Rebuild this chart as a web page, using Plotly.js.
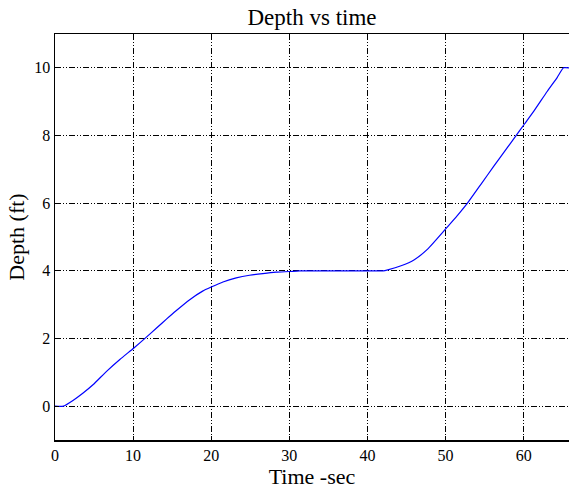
<!DOCTYPE html>
<html>
<head>
<meta charset="utf-8">
<script src="https://cdn.plot.ly/plotly-3.0.1.min.js"></script>
<style>html,body{margin:0;padding:0;overflow:hidden;background:#fff;}</style>
</head>
<body>
<div id="chart" style="width:569px;height:493px;"></div>
<script>
const timeSec = [0, 1.06, 2.3, 3.6, 4.9, 6.6, 8.3, 10.1, 11.7, 13.0, 14.3, 15.5, 17.2, 18.9, 20.0, 21.5, 23.2, 24.9, 26.6, 28.3, 30.0, 31.3, 35.0, 39.1, 42.0, 42.6, 44.3, 46.0, 47.7, 50.1, 51.5, 52.8, 54.5, 56.2, 57.9, 59.0, 60.1, 61.3, 63.0, 64.3, 65.1, 65.8];
const depthFt = [0, 0, 0.17, 0.39, 0.64, 1.03, 1.38, 1.72, 2.04, 2.31, 2.58, 2.82, 3.14, 3.40, 3.52, 3.67, 3.79, 3.87, 3.92, 3.96, 3.98, 4.0, 4.0, 4.0, 4.0, 4.03, 4.15, 4.33, 4.64, 5.26, 5.63, 6.0, 6.55, 7.1, 7.64, 7.99, 8.34, 8.72, 9.3, 9.72, 10.0, 10.0];
const xTicks = [0, 10, 20, 30, 40, 50, 60];
const yTicks = [0, 2, 4, 6, 8, 10];

const serif = "'Liberation Serif', 'Times New Roman', serif";
const gridDash = "6px,2px,1px,2px,1px,2px";

Plotly.newPlot('chart', [{
  x: timeSec, y: depthFt, type: 'scatter', mode: 'lines',
  line: {color: '#0000ff', width: 1.2, shape: 'spline', smoothing: 0.5}, hoverinfo: 'none'
}], {
  width: 569, height: 493,
  margin: {l: 55, r: 0, t: 34, b: 53},
  paper_bgcolor: '#fff', plot_bgcolor: '#fff',
  showlegend: false,
  font: {family: serif, color: '#000', size: 16},
  title: {text: 'Depth vs time', font: {family: serif, size: 23, color: '#000'}, x: 0.5, xref: 'paper', xanchor: 'center', y: 1 - 17 / 493, yref: 'container', yanchor: 'middle'},
  xaxis: {
    range: [0, 65.8], tickvals: xTicks, ticktext: xTicks.map(String),
    showline: true, linecolor: '#000', linewidth: 1.5, mirror: true,
    ticks: 'inside', ticklen: 4, tickcolor: '#000',
    showgrid: true, gridcolor: '#000', gridwidth: 1, griddash: gridDash,
    zeroline: false, tickfont: {family: serif, size: 16, color: '#000'},
    title: {text: 'Time -sec', font: {family: serif, size: 22, color: '#000'}, standoff: 5}
  },
  yaxis: {
    range: [-1, 11], tickvals: yTicks, ticktext: yTicks.map(String),
    showline: true, linecolor: '#000', linewidth: 1.5, mirror: false,
    ticks: 'inside', ticklen: 4, tickcolor: '#000',
    showgrid: true, gridcolor: '#000', gridwidth: 1, griddash: gridDash,
    zeroline: false, tickfont: {family: serif, size: 16, color: '#000'},
    title: {text: 'Depth (ft)', font: {family: serif, size: 22, color: '#000'}, standoff: 3}
  }
}, {displayModeBar: false, staticPlot: true});
</script>
</body>
</html>
